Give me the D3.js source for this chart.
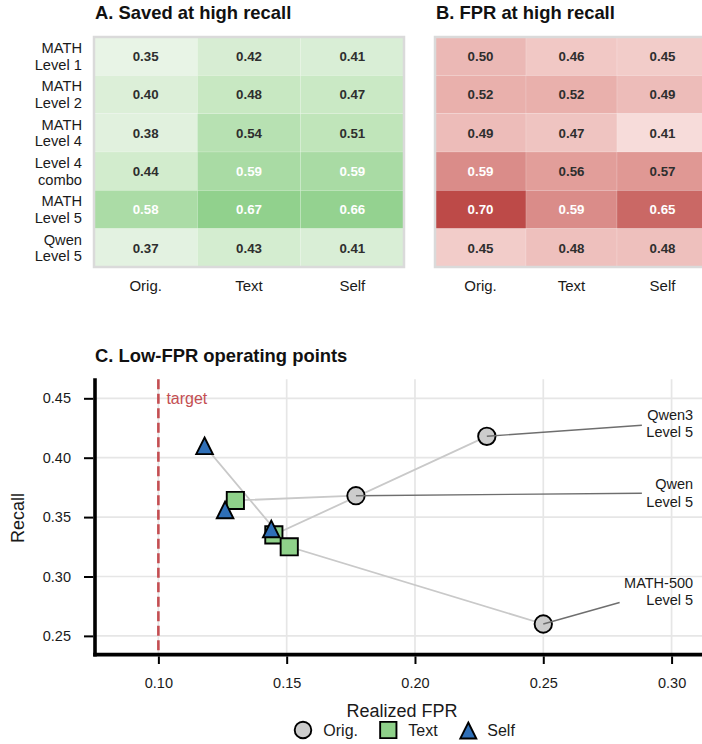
<!DOCTYPE html>
<html>
<head>
<meta charset="utf-8">
<script src="https://cdn.jsdelivr.net/npm/d3@7"></script>
<style>
  body { margin: 0; background: #fff; }
  svg { display: block; font-family: "Liberation Sans", Arial, Helvetica, sans-serif; }
</style>
</head>
<body>
<svg id="fig" width="702" height="744"></svg>
<script>
// ---- heatmap data ----
const rowLabels = [
  ["MATH", "Level 1"],
  ["MATH", "Level 2"],
  ["MATH", "Level 4"],
  ["Level 4", "combo"],
  ["MATH", "Level 5"],
  ["Qwen", "Level 5"]
];
const methods = ["Orig.", "Text", "Self"];
const savedAtHighRecall = [
  [0.35, 0.42, 0.41],
  [0.40, 0.48, 0.47],
  [0.38, 0.54, 0.51],
  [0.44, 0.59, 0.59],
  [0.58, 0.67, 0.66],
  [0.37, 0.43, 0.41]
];
const fprAtHighRecall = [
  [0.50, 0.46, 0.45],
  [0.52, 0.52, 0.49],
  [0.49, 0.47, 0.41],
  [0.59, 0.56, 0.57],
  [0.70, 0.59, 0.65],
  [0.45, 0.48, 0.48]
];

// ---- operating-point data (index order: Qwen3 L5, Qwen L5, MATH-500 L5) ----
const datasetLabels = [["Qwen3", "Level 5"], ["Qwen", "Level 5"], ["MATH-500", "Level 5"]];
const origFPR    = [0.228, 0.177, 0.250];
const origRecall = [0.418, 0.368, 0.260];
const textFPR    = [0.145, 0.130, 0.151];
const textRecall = [0.335, 0.364, 0.325];
const selfFPR    = [0.144, 0.126, 0.118];
const selfRecall = [0.340, 0.356, 0.410];
const labelFPR    = [0.3084, 0.3084, 0.3084];
const labelRecall = [0.4292, 0.3705, 0.2875];
const targetFPR = 0.10;
const xTicks = [0.10, 0.15, 0.20, 0.25, 0.30];
const yTicks = [0.25, 0.30, 0.35, 0.40, 0.45];

const svg = d3.select("#fig");
const fmt = d3.format(".2f");

// ---- heatmaps ----
function heatmap(x0, x1, values, color, title, withRowLabels) {
  const g = svg.append("g");
  const xb = d3.scaleBand().domain(methods).range([x0, x1]);
  const yb = d3.scaleBand().domain(d3.range(rowLabels.length)).range([37, 267]);

  values.forEach((row, i) => {
    row.forEach((v, j) => {
      g.append("rect")
        .attr("x", xb(methods[j])).attr("y", yb(i))
        .attr("width", xb.bandwidth()).attr("height", yb.bandwidth())
        .attr("fill", color(v))
        .attr("stroke", "#ffffff").attr("stroke-opacity", 0.25).attr("stroke-width", 0.6);
      g.append("text")
        .attr("x", xb(methods[j]) + xb.bandwidth() / 2)
        .attr("y", yb(i) + yb.bandwidth() / 2)
        .attr("dy", "0.36em")
        .attr("text-anchor", "middle")
        .attr("font-size", 13.3).attr("font-weight", "bold")
        .attr("fill", v >= 0.575 ? "#ffffff" : "#2e2e2e")
        .text(fmt(v));
    });
  });

  g.append("rect")
    .attr("x", x0).attr("y", 37)
    .attr("width", x1 - x0).attr("height", 230)
    .attr("fill", "none").attr("stroke", "#dadada").attr("stroke-width", 2.5);

  methods.forEach(m => {
    g.append("text")
      .attr("x", xb(m) + xb.bandwidth() / 2).attr("y", 290.5)
      .attr("text-anchor", "middle").attr("font-size", 15).attr("fill", "#1a1a1a")
      .text(m);
  });

  if (withRowLabels) {
    rowLabels.forEach((lines, i) => {
      const cy = yb(i) + yb.bandwidth() / 2;
      const t = g.append("text").attr("text-anchor", "end")
        .attr("font-size", 14.7).attr("fill", "#1a1a1a");
      lines.forEach((s, k) => {
        t.append("tspan").attr("x", 82)
          .attr("y", cy + (k === 0 ? -8.3 : 8.3)).attr("dy", "0.36em").text(s);
      });
    });
  }

  g.append("text")
    .attr("x", x0 + 1).attr("y", 19)
    .attr("font-size", 18.4).attr("font-weight", "bold").attr("fill", "#111")
    .text(title);
}

const greens = d3.scaleLinear()
  .domain([0.35, 0.50, 0.67])
  .range(["#e8f4e6", "#c3e6bd", "#91d18d"]);
const reds = d3.scaleLinear()
  .domain([0.41, 0.55, 0.70])
  .range(["#f7dcda", "#e5a4a0", "#bd4a48"]);

heatmap(94, 404, savedAtHighRecall, greens, "A. Saved at high recall", true);
heatmap(435, 708, fprAtHighRecall, reds, "B. FPR at high recall", false);

// ---- operating points ----
const x = d3.scaleLinear().domain([0.0753, 0.32]).range([95, 722.9]);
const y = d3.scaleLinear().domain([0.235, 0.466]).range([653.7, 379.3]);
const plot = svg.append("g");

// grid
plot.selectAll(".gx").data(xTicks).join("line")
  .attr("x1", d => x(d)).attr("x2", d => x(d))
  .attr("y1", y.range()[1]).attr("y2", y.range()[0])
  .attr("stroke", "#e6e6e6").attr("stroke-width", 1.7);
plot.selectAll(".gy").data(yTicks).join("line")
  .attr("x1", x.range()[0]).attr("x2", x.range()[1])
  .attr("y1", d => y(d)).attr("y2", d => y(d))
  .attr("stroke", "#e6e6e6").attr("stroke-width", 1.7);

// axes
const yAxis = d3.axisLeft(y).tickValues(yTicks).tickFormat(fmt).tickSize(9.3).tickPadding(13);
const xAxis = d3.axisBottom(x).tickValues(xTicks).tickFormat(fmt).tickSize(7.6).tickPadding(13.8);
const ya = plot.append("g").attr("transform", "translate(93.3,0)").call(yAxis);
const xa = plot.append("g").attr("transform", "translate(0,656.4)").call(xAxis);
[ya, xa].forEach(a => {
  a.select(".domain").remove();
  a.selectAll(".tick line").attr("stroke", "#000").attr("stroke-width", 2);
  a.selectAll(".tick text").attr("font-size", 14.5).attr("fill", "#1a1a1a")
    .attr("font-family", "'Liberation Sans', Arial, sans-serif");
});
plot.append("line").attr("x1", 95).attr("x2", 95).attr("y1", 378.3).attr("y2", 656.4)
  .attr("stroke", "#000").attr("stroke-width", 3.6);
plot.append("line").attr("x1", 93.2).attr("x2", 722.9).attr("y1", 654.6).attr("y2", 654.6)
  .attr("stroke", "#000").attr("stroke-width", 3.6);

// target FPR
plot.append("line")
  .attr("x1", x(targetFPR)).attr("x2", x(targetFPR))
  .attr("y1", y.range()[1]).attr("y2", y.range()[0] - 1)
  .attr("stroke", "#c44e52").attr("stroke-width", 2.6).attr("stroke-dasharray", "10,4.5");
plot.append("text")
  .attr("x", x(targetFPR) + 8).attr("y", y(0.45) + 5.5)
  .attr("font-size", 16).attr("fill", "#c44e52").text("target");

// per-dataset paths Orig. -> Text -> Self
const line = d3.line().x(d => x(d[0])).y(d => y(d[1]));
origFPR.forEach((_, i) => {
  plot.append("path")
    .attr("d", line([[origFPR[i], origRecall[i]], [textFPR[i], textRecall[i]], [selfFPR[i], selfRecall[i]]]))
    .attr("fill", "none").attr("stroke", "#c9c9c9").attr("stroke-width", 1.8);
});

// markers
const triPath = h => `M0,${-h}L${h},${h}L${-h},${h}Z`;
const sqSym = d3.symbol().type(d3.symbolSquare).size(17.2 * 17.2);
function drawCircle(g, cx, cy, r) {
  g.append("circle").attr("cx", cx).attr("cy", cy).attr("r", r)
    .attr("fill", "#cccccc").attr("stroke", "#000").attr("stroke-width", 1.9);
}
function drawSquare(g, cx, cy, sym) {
  g.append("path").attr("d", sym()).attr("transform", `translate(${cx},${cy})`)
    .attr("fill", "#8fd18a").attr("stroke", "#000").attr("stroke-width", 1.9);
}
function drawTri(g, cx, cy, h) {
  g.append("path").attr("d", triPath(h)).attr("transform", `translate(${cx},${cy})`)
    .attr("fill", "#2f6fb7").attr("stroke", "#000").attr("stroke-width", 1.9)
    .attr("stroke-linejoin", "miter");
}
origFPR.forEach((_, i) => drawCircle(plot, x(origFPR[i]), y(origRecall[i]), 8.7));
textFPR.forEach((_, i) => drawSquare(plot, x(textFPR[i]), y(textRecall[i]), sqSym));
selfFPR.forEach((_, i) => drawTri(plot, x(selfFPR[i]), y(selfRecall[i]), 8.3));

// dataset annotations, leader line aimed at the label box centre
datasetLabels.forEach((lines, i) => {
  const lx = x(labelFPR[i]), ly = y(labelRecall[i]);
  const t = plot.append("text").attr("text-anchor", "end")
    .attr("font-size", 14.5).attr("fill", "#1a1a1a");
  lines.forEach((s, k) => {
    t.append("tspan").attr("x", lx).attr("y", ly + (k === 0 ? -8.6 : 8.6)).attr("dy", "0.36em").text(s);
  });
  const bb = t.node().getBBox();
  const pad = 4.5;
  const bx0 = bb.x - pad, bx1 = bb.x + bb.width + pad, by0 = bb.y - pad, by1 = bb.y + bb.height + pad;
  const cx = (bx0 + bx1) / 2, cy = (by0 + by1) / 2;
  const px = x(origFPR[i]), py = y(origRecall[i]);
  const dx = cx - px, dy = cy - py;
  let tMin = 1;
  if (dx !== 0) {
    const tl = (bx0 - px) / dx;
    const yy = py + tl * dy;
    if (tl > 0 && tl < tMin && yy >= by0 && yy <= by1) tMin = tl;
  }
  if (dy !== 0) {
    [by0, by1].forEach(edge => {
      const tt = (edge - py) / dy;
      const xx = px + tt * dx;
      if (tt > 0 && tt < tMin && xx >= bx0 && xx <= bx1) tMin = tt;
    });
  }
  plot.append("line")
    .attr("x1", px).attr("y1", py)
    .attr("x2", px + tMin * dx).attr("y2", py + tMin * dy)
    .attr("stroke", "#6e6e6e").attr("stroke-width", 1.4);
});

// titles and axis labels
svg.append("text").attr("x", 95).attr("y", 362.3)
  .attr("font-size", 18.4).attr("font-weight", "bold").attr("fill", "#111")
  .text("C. Low-FPR operating points");
svg.append("text").attr("x", 402).attr("y", 716.5).attr("text-anchor", "middle")
  .attr("font-size", 18).attr("fill", "#1a1a1a").text("Realized FPR");
svg.append("text").attr("transform", "translate(24,518) rotate(-90)")
  .attr("text-anchor", "middle").attr("font-size", 18).attr("fill", "#1a1a1a").text("Recall");

// legend
const legend = svg.append("g");
drawCircle(legend, 303, 730, 8.3);
legend.append("text").attr("x", 323.3).attr("y", 735.8).attr("font-size", 16).attr("fill", "#1a1a1a").text("Orig.");
drawSquare(legend, 388.3, 730, d3.symbol().type(d3.symbolSquare).size(16.3 * 16.3));
legend.append("text").attr("x", 408.3).attr("y", 735.8).attr("font-size", 16).attr("fill", "#1a1a1a").text("Text");
drawTri(legend, 468.3, 730.5, 8);
legend.append("text").attr("x", 487.3).attr("y", 735.8).attr("font-size", 16).attr("fill", "#1a1a1a").text("Self");
</script>
</body>
</html>
